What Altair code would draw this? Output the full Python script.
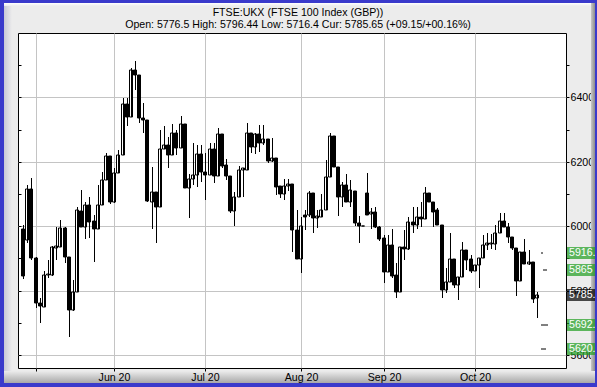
import altair as alt
import pandas as pd

# ---------------- data ----------------
opens = [5990, 5957, 6115, 5901, 5761, 5749, 5848, 5848, 5932, 5935,
         5994, 5904, 5740, 5796, 6047, 5997, 6065, 6015, 5991, 6065,
         6143, 6217, 6075, 6164, 6220, 6381, 6338, 6484, 6471, 6335,
         6329, 6075, 6105, 6059, 6241, 6251, 6220, 6291, 6242, 6319,
         6118, 6146, 6158, 6223, 6168, 6158, 6239, 6155, 6285, 6189,
         6155, 6047, 6090, 6174, 6174, 6291, 6245, 6288, 6257, 6270,
         6202, 6211, 6124, 6099, 6124, 6130, 5988, 5898, 6035, 6035,
         6102, 6025, 6028, 6050, 6152, 6279, 6183, 6090, 6127, 6075,
         6111, 6009, 6001, 6102, 6037, 6044, 5997, 5963, 5857, 5941,
         5848, 5795, 5935, 5928, 6013, 6003, 6028, 6022, 6102, 6075,
         6050, 6003, 5802, 5826, 5898, 5817, 5842, 5926, 5898, 5861,
         5879, 5901, 5941, 5944, 5944, 5978, 6016, 5997, 5966, 5932,
         5830, 5920, 5882, 5889, 5776.5]
highs = [6005, 6127, 6149, 5905, 5777, 5860, 5895, 5938, 5997, 6018,
         5998, 5906, 5833, 6059, 6112, 6075, 6090, 6034, 6127, 6167,
         6229, 6217, 6180, 6236, 6397, 6397, 6491, 6512, 6471, 6384,
         6329, 6183, 6105, 6298, 6310, 6276, 6319, 6298, 6341, 6319,
         6161, 6260, 6251, 6251, 6226, 6257, 6257, 6304, 6285, 6208,
         6155, 6105, 6186, 6180, 6322, 6291, 6291, 6313, 6313, 6270,
         6273, 6211, 6124, 6146, 6146, 6130, 6050, 6028, 6050, 6111,
         6102, 6050, 6099, 6205, 6291, 6279, 6183, 6136, 6161, 6143,
         6111, 6031, 6001, 6164, 6056, 6059, 6000, 5972, 5972, 5993,
         5885, 5935, 5988, 6028, 6059, 6059, 6074, 6121, 6102, 6075,
         6056, 6003, 5870, 5978, 5898, 5842, 5951, 5926, 5910, 5879,
         5901, 5972, 5978, 5975, 6003, 6040, 6040, 6010, 5966, 5932,
         5920, 5960, 5926, 5889, 5796.44]
lows = [5835, 5947, 5895, 5746, 5699, 5749, 5840, 5845, 5895, 5935,
        5885, 5656, 5738, 5796, 5997, 5960, 5963, 5888, 5991, 6065,
        6143, 6070, 6071, 6164, 6220, 6310, 6338, 6422, 6320, 6291,
        6075, 5991, 5947, 6059, 6240, 6180, 6220, 6220, 6242, 6118,
        6025, 6127, 6121, 6136, 6081, 6158, 6133, 6155, 6180, 6143,
        6040, 6000, 6090, 6090, 6174, 6226, 6225, 6230, 6251, 6195,
        6200, 6096, 6087, 6081, 6111, 5920, 5898, 5854, 5988, 6028,
        5978, 5994, 6028, 6050, 6152, 6183, 6031, 6059, 6075, 6059,
        6000, 5947, 6001, 6035, 5991, 5995, 5954, 5823, 5857, 5839,
        5777, 5795, 5895, 5925, 5978, 5991, 5997, 6022, 6075, 5997,
        6003, 5777, 5792, 5826, 5808, 5771, 5842, 5864, 5854, 5861,
        5808, 5901, 5926, 5928, 5926, 5978, 5997, 5947, 5926, 5783,
        5830, 5882, 5879, 5761, 5716.4]
closes = [5845, 6115, 5901, 5761, 5752, 5848, 5853, 5935, 5938, 5994,
          5904, 5740, 5796, 6050, 5997, 6065, 6013, 5991, 6065, 6143,
          6217, 6075, 6164, 6220, 6381, 6338, 6484, 6471, 6335, 6329,
          6077, 6105, 6059, 6241, 6251, 6220, 6291, 6242, 6319, 6118,
          6146, 6158, 6223, 6168, 6158, 6239, 6155, 6285, 6186, 6155,
          6047, 6090, 6174, 6180, 6291, 6245, 6288, 6257, 6270, 6202,
          6211, 6121, 6099, 6124, 6130, 5988, 5898, 6000, 6028, 6102,
          6025, 6031, 6050, 6152, 6279, 6183, 6090, 6127, 6075, 6114,
          6009, 6000, 6001, 6035, 6044, 5997, 5960, 5857, 5941, 5845,
          5795, 5935, 5928, 6013, 6003, 6028, 6022, 6102, 6075, 6044,
          6003, 5802, 5826, 5898, 5817, 5842, 5926, 5895, 5861, 5879,
          5901, 5941, 5947, 5948, 5978, 6016, 5997, 5966, 5932, 5830,
          5920, 5882, 5889, 5774, 5785.65]

target_levels = [5916, 5865, 5692, 5620]
target_texts = ["5916.", "5865", "5692.", "5620."]
current_text = "5785."

title_text = "FTSE:UKX (FTSE 100 Index (GBP))"

holidays = ["2020-05-08", "2020-05-25", "2020-08-31"]
dates = pd.bdate_range("2020-04-28", "2020-10-22", freq="C", holidays=holidays)
n = len(closes)
assert len(dates) == n == len(opens) == len(highs) == len(lows)

FONT = "Liberation Sans"
FS = 10.6
GRID = "#c4c4c4"

df = pd.DataFrame({"i": list(range(n)), "date": dates.strftime("%Y-%m-%d"),
                   "open": opens, "high": highs, "low": lows, "close": closes})

# first trading day of each month that starts inside the data
months = dates.to_period("M")
month_first = [k for k in df.groupby(months)["i"].min().tolist() if dates[k].day <= 3]
month_labels = [dates[k].strftime("%b %y") for k in month_first]
month_labels[0] = ""  # the May label is not shown (too close to the edge)
label_expr = "".join(f"datum.value == {k} ? '{lab}' : " for k, lab in zip(month_first, month_labels)) + "''"

xscale = alt.Scale(domain=[-0.04, 129.83], round=True, nice=False, zero=False)
yscale = alt.Scale(domain=[5560, 6600], round=True, nice=False, zero=False)

base = alt.Chart(df)

# bodies carry the grid axes (behind the marks)
bodies = base.mark_bar(size=3, stroke="black", strokeWidth=1, orient="vertical", clip=True).encode(
    x=alt.X("i:Q", scale=xscale, title=None,
            axis=alt.Axis(orient="bottom", values=month_first, grid=True, gridColor=GRID,
                          ticks=False, labels=False, domain=False)),
    y=alt.Y("open:Q", scale=yscale, title=None,
            axis=alt.Axis(orient="left", values=list(range(5600, 6500, 200)), grid=True,
                          gridColor=GRID, ticks=False, labels=False, domain=False)),
    y2="close:Q",
    fill=alt.condition("datum.close >= datum.open", alt.value("white"), alt.value("black")),
)

# wicks carry the labelled axes
wicks = base.mark_rule(color="black", strokeWidth=1, xOffset=0.5, clip=True).encode(
    x=alt.X("i:Q", scale=xscale, title=None,
            axis=alt.Axis(orient="bottom", values=month_first, grid=False, labelExpr=label_expr,
                          tickSize=3, tickColor="black", domain=False, labelFont=FONT,
                          labelFontSize=FS, labelColor="black", labelPadding=1,
                          labelFlush=False, zindex=1)),
    y=alt.Y("low:Q", scale=yscale, title=None,
            axis=alt.Axis(orient="right", values=list(range(5600, 6600, 100)), format="d",
                          labelExpr="datum.value % 200 == 0 ? datum.label : ''",
                          tickSize=3, tickColor="black", grid=False, domain=False,
                          labelFont=FONT, labelFontSize=FS, labelColor="black",
                          labelPadding=1)),
    y2="high:Q",
)

tdf = pd.DataFrame({"level": target_levels, "x1": [124.9, 125.5, 124.9, 125.1],
                    "x2": [125.6, 126.5, 126.7, 126.3]})
dashes = alt.Chart(tdf).mark_rule(color="black", strokeWidth=1).encode(
    x=alt.X("x1:Q", scale=xscale, axis=None),
    x2="x2:Q",
    y=alt.Y("level:Q", scale=yscale, title=None,
            axis=alt.Axis(orient="left", offset=-3, values=list(range(5600, 6600, 100)),
                          tickSize=3, tickColor="black", labels=False, domain=False, grid=False)),
)

ldf = pd.DataFrame({
    "level": target_levels[:2] + [closes[-1]] + target_levels[2:],
    "text": target_texts[:2] + [current_text] + target_texts[2:],
    "kind": ["t", "t", "c", "t", "t"],
})
boxes = alt.Chart(ldf).mark_tick(orient="horizontal", thickness=12, size=29).encode(
    x=alt.value(563.5),
    y=alt.Y("level:Q", scale=yscale, axis=None),
    color=alt.condition("datum.kind == 'c'", alt.value("black"), alt.value("#1f9e1f")),
)
box_text = alt.Chart(ldf).mark_text(align="left", baseline="middle", color="white",
                                   font=FONT, fontSize=FS).encode(
    x=alt.value(551),
    y=alt.Y("level:Q", scale=yscale, axis=None),
    text="text:N",
)

subtitle = (f"Open: {opens[-1]} High: {highs[-1]} Low: {lows[-1]} Cur: {closes[-1]} "
            f"(+{closes[-1] - opens[-1]:05.2f}/+{(closes[-1] - opens[-1]) / opens[-1] * 100:05.2f}%)")

one = pd.DataFrame({"a": [0]})
title1 = alt.Chart(one).mark_text(align="center", baseline="middle", color="black",
                                  font=FONT, fontSize=FS, text=title_text).encode(
    x=alt.value(280), y=alt.value(-20))
title2 = alt.Chart(one).mark_text(align="center", baseline="middle", color="black",
                                  font=FONT, fontSize=FS, text=subtitle).encode(
    x=alt.value(280), y=alt.value(-8))

# decorative frame (pixel coords relative to the plot origin at 18,33)
def strip(x0, x1, y0, y1, fill):
    return alt.Chart(one).mark_rect(fill=fill, strokeWidth=0).encode(
        x=alt.value(x0 - 18), x2=alt.value(x1 - 18), y=alt.value(y0 - 33), y2=alt.value(y1 - 33))

def grad(c0, c1, horizontal):
    return alt.Gradient(gradient="linear",
                        stops=[alt.GradientStop(color=c0, offset=0), alt.GradientStop(color=c1, offset=1)],
                        x1=0, y1=0, x2=1 if horizontal else 0, y2=0 if horizontal else 1)

BG = "#ececec"
BLUE = "#3a3acb"
shade = [
    strip(4, 12, 3, 383, grad("#c9c9d6", BG, True)),
    strip(4, 594, 3, 6, grad("#ffffff", BG, False)),
    strip(591, 595, 3, 383, grad("#c8c8c8", "#8c8c8c", True)),
    strip(4, 595, 371, 383, grad(BG, "#a8a8a8", False)),
]
border = [
    strip(0, 597, 0, 3, BLUE),
    strip(0, 4, 0, 387, BLUE),
    strip(595, 597, 0, 387, BLUE),
    strip(0, 597, 383, 387, BLUE),
]

chart = alt.layer(*shade, bodies, wicks, dashes, title1, title2, boxes, box_text, *border).resolve_axis(
    x="independent", y="independent"
).resolve_scale(y="shared", x="shared").properties(
    width=548, height=335,
    autosize=alt.AutoSizeParams(type="none"),
    padding={"left": 18, "top": 33, "right": 31, "bottom": 19},
    background=BG,
).configure_view(stroke="black", strokeWidth=1, fill="white")

chart.save("out.html", embed_options={"renderer": "svg", "actions": False})
